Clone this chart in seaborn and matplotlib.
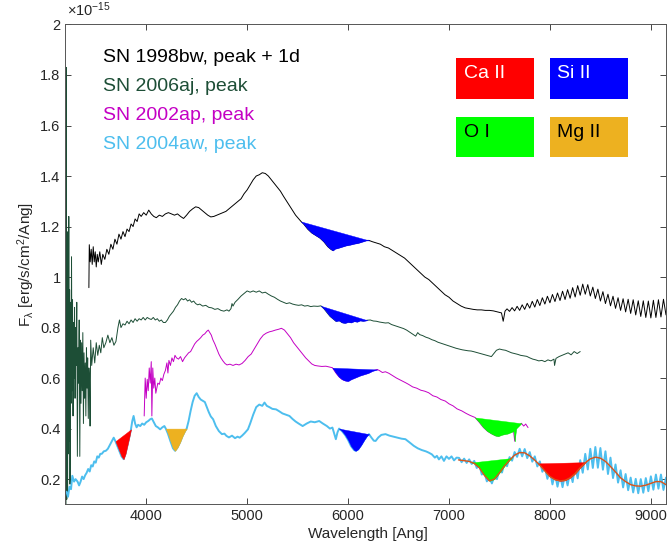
import numpy as np
import seaborn as sns
import matplotlib.pyplot as plt
from matplotlib.patches import Rectangle
from matplotlib.ticker import FormatStrFormatter

# spectra, flux in units of 1e-15 erg/s/cm^2/Ang
bw98_osc_wl = [7575, 7600, 7625, 7650, 7675, 7700, 7725, 7750, 7775, 7800,
               7825, 7850, 7875, 7900, 7925, 7950, 7975, 8000, 8025, 8050,
               8075, 8100, 8125, 8150, 8175, 8200, 8225, 8250, 8275, 8300,
               8325, 8350, 8375, 8400, 8425, 8450, 8475, 8500, 8525, 8550,
               8575, 8600, 8625, 8650, 8675, 8700, 8725, 8750, 8775, 8800,
               8825, 8850, 8875, 8900, 8925, 8950, 8975, 9000, 9025, 9050,
               9075, 9100, 9125, 9150]
bw98_wl = [3432, 3436, 3445, 3455, 3465, 3475, 3485, 3495, 3505, 3515,
           3525, 3540, 3555, 3570, 3590, 3610, 3630, 3650, 3670, 3690,
           3710, 3730, 3750, 3770, 3790, 3810, 3830, 3850, 3870, 3890,
           3910, 3930, 3950, 3975, 4000, 4025, 4050, 4075, 4100, 4130,
           4160, 4190, 4220, 4250, 4280, 4310, 4340, 4370, 4400, 4430,
           4460, 4490, 4520, 4550, 4580, 4610, 4640, 4670, 4700, 4730,
           4760, 4790, 4820, 4850, 4880, 4910, 4940, 4970, 5000, 5030,
           5060, 5090, 5120, 5150, 5180, 5210, 5240, 5270, 5300, 5330,
           5360, 5400, 5440, 5480, 5534, 5560, 5600, 5640, 5680, 5720,
           5760, 5800, 5830, 5850, 5870, 5900, 5940, 5980, 6020, 6060,
           6100, 6140, 6180, 6207, 6240, 6280, 6320, 6360, 6400, 6440,
           6480, 6520, 6560, 6600, 6640, 6680, 6720, 6760, 6800, 6840,
           6880, 6920, 6960, 7000, 7040, 7080, 7120, 7160, 7200, 7240,
           7280, 7320, 7360, 7400, 7440, 7480, 7520, 7537, 7555] + bw98_osc_wl
bw98_flux = [0.958, 1.128, 1.06, 1.11, 1.05, 1.12, 1.06, 1.10, 1.04, 1.09,
             1.06, 1.10, 1.05, 1.09, 1.07, 1.11, 1.09, 1.13, 1.11, 1.15,
             1.13, 1.17, 1.15, 1.18, 1.16, 1.19, 1.18, 1.21, 1.20, 1.23,
             1.22, 1.25, 1.24, 1.255, 1.245, 1.265, 1.25, 1.24, 1.235, 1.245,
             1.24, 1.25, 1.255, 1.25, 1.245, 1.25, 1.24, 1.232, 1.245, 1.26,
             1.27, 1.278, 1.275, 1.265, 1.255, 1.245, 1.238, 1.24, 1.245, 1.25,
             1.255, 1.26, 1.27, 1.28, 1.29, 1.30, 1.31, 1.33, 1.345, 1.365,
             1.385, 1.40, 1.405, 1.413, 1.41, 1.40, 1.385, 1.37, 1.355, 1.34,
             1.32, 1.295, 1.27, 1.245, 1.22, 1.21, 1.19, 1.175, 1.165, 1.155,
             1.14, 1.12, 1.11, 1.105, 1.112, 1.115, 1.12, 1.125, 1.128, 1.132,
             1.135, 1.14, 1.145, 1.145, 1.14, 1.135, 1.13, 1.12, 1.115, 1.105,
             1.095, 1.085, 1.075, 1.06, 1.045, 1.03, 1.015, 1.0, 0.99, 0.975,
             0.96, 0.945, 0.93, 0.92, 0.905, 0.895, 0.885, 0.878, 0.875, 0.872,
             0.87, 0.87, 0.868, 0.868, 0.866, 0.862, 0.858, 0.825, 0.865,
             0.874, 0.864, 0.879, 0.866, 0.884, 0.868, 0.890, 0.872, 0.896, 0.877,
             0.904, 0.881, 0.911, 0.887, 0.918, 0.893, 0.924, 0.898, 0.931, 0.903,
             0.937, 0.907, 0.944, 0.911, 0.950, 0.916, 0.958, 0.921, 0.966, 0.928,
             0.972, 0.932, 0.970, 0.925, 0.960, 0.915, 0.952, 0.905, 0.942, 0.895,
             0.932, 0.886, 0.924, 0.876, 0.918, 0.868, 0.914, 0.862, 0.912, 0.856,
             0.910, 0.850, 0.906, 0.844, 0.906, 0.840, 0.905, 0.838, 0.908, 0.840,
             0.910, 0.842, 0.912, 0.850]

aj06_wl = [3205, 3209, 3213, 3217, 3221, 3225, 3229, 3233, 3237, 3241,
           3245, 3250, 3255, 3260, 3265, 3270, 3275, 3280, 3285, 3290,
           3295, 3300, 3306, 3312, 3318, 3324, 3330, 3336, 3342, 3348,
           3354, 3360, 3366, 3372, 3378, 3384, 3390, 3396, 3402, 3408,
           3414, 3420, 3426, 3432, 3438, 3444, 3450,
           3460, 3475, 3490, 3505, 3520, 3535, 3550, 3565, 3580, 3600,
           3620, 3640, 3660, 3680, 3700, 3720, 3735, 3750, 3770, 3790,
           3810, 3830, 3850, 3870, 3890, 3910, 3930, 3950, 3970, 3990,
           4010, 4030, 4050, 4070, 4090, 4110, 4130, 4150, 4170, 4190,
           4210, 4230, 4250, 4270, 4290, 4310, 4330, 4350, 4370, 4390,
           4410, 4430, 4450, 4470, 4490, 4510, 4530, 4560, 4590, 4620,
           4650, 4680, 4710, 4740, 4770, 4800, 4820, 4840, 4850, 4860,
           4880, 4910, 4940, 4970, 5000, 5030, 5060, 5090, 5120, 5150,
           5180, 5210, 5240, 5270, 5300, 5330, 5360, 5390, 5420, 5450,
           5480, 5510, 5540, 5570, 5600, 5630, 5660, 5700, 5731, 5760,
           5790, 5820, 5850, 5880, 5910, 5940, 5970, 6000, 6030, 6060,
           6090, 6120, 6150, 6190, 6220, 6250, 6280, 6310, 6340, 6370,
           6400, 6430, 6460, 6490, 6520, 6550, 6580, 6670, 6690, 6710,
           6740, 6770, 6800, 6830, 6860, 6890, 6920, 6950, 6980, 7010,
           7040, 7070, 7100, 7130, 7160, 7190, 7220, 7250, 7420, 7450,
           7470, 7500, 7530, 7560, 7590, 7620, 7650, 7680, 7710, 7740,
           7770, 7800, 7830, 7860, 7890, 7920, 7950, 7980, 8010, 8040,
           8046, 8060, 8090, 8120, 8150, 8180, 8210, 8240, 8270, 8300]
aj06_flux = [0.10, 1.83, 0.12, 1.00, 0.15, 1.18, 0.30, 1.24, 0.35, 0.95,
             0.18, 0.90, 0.50, 1.08, 0.55, 0.91, 0.45, 0.82, 0.60, 0.88,
             0.52, 0.80, 0.65, 0.90, 0.29, 0.72, 0.58, 0.83, 0.29, 0.75,
             0.50, 0.74, 0.55, 0.78, 0.42, 0.70, 0.52, 0.66, 0.45, 0.72,
             0.56, 0.68, 0.44, 0.64, 0.60, 0.41, 0.75,
             0.65, 0.72, 0.66, 0.74, 0.69, 0.73, 0.70, 0.76, 0.72, 0.74,
             0.77, 0.74, 0.76, 0.73, 0.745, 0.80, 0.83, 0.80, 0.815, 0.81,
             0.825, 0.815, 0.83, 0.82, 0.835, 0.825, 0.835, 0.83, 0.84, 0.83,
             0.84, 0.835, 0.832, 0.84, 0.83, 0.835, 0.825, 0.83, 0.82, 0.82,
             0.83, 0.845, 0.855, 0.865, 0.88, 0.89, 0.905, 0.915, 0.91, 0.915,
             0.905, 0.91, 0.90, 0.905, 0.895, 0.89, 0.893, 0.885, 0.888, 0.88,
             0.878, 0.872, 0.875, 0.868, 0.865, 0.87, 0.865, 0.875, 0.895, 0.885,
             0.90, 0.912, 0.925, 0.935, 0.945, 0.94, 0.945, 0.94, 0.945, 0.937,
             0.94, 0.932, 0.925, 0.92, 0.912, 0.905, 0.90, 0.895, 0.898, 0.893,
             0.89, 0.888, 0.89, 0.885, 0.887, 0.883, 0.885, 0.884, 0.886, 0.875,
             0.86, 0.845, 0.835, 0.825, 0.828, 0.82, 0.818, 0.822, 0.82, 0.825,
             0.823, 0.828, 0.826, 0.829, 0.83, 0.826, 0.825, 0.822, 0.82, 0.818,
             0.819, 0.812, 0.808, 0.804, 0.80, 0.796, 0.79, 0.766, 0.78, 0.772,
             0.768, 0.762, 0.758, 0.752, 0.748, 0.742, 0.738, 0.734, 0.73, 0.726,
             0.722, 0.718, 0.715, 0.712, 0.71, 0.708, 0.707, 0.704, 0.685, 0.70,
             0.71, 0.715, 0.712, 0.71, 0.705, 0.70, 0.697, 0.694, 0.69, 0.688,
             0.686, 0.68, 0.675, 0.672, 0.668, 0.67, 0.665, 0.672, 0.668, 0.675,
             0.65, 0.678, 0.685, 0.69, 0.695, 0.70, 0.692, 0.705, 0.697, 0.705]

ap02_wl = [3980, 3990, 4000, 4010, 4020, 4030, 4040, 4050, 4056, 4065,
           4075, 4085, 4095, 4105, 4115, 4130, 4145, 4160, 4175, 4190,
           4205, 4215, 4225, 4240, 4255, 4270, 4285, 4300, 4320, 4340,
           4360, 4380, 4400, 4420, 4440, 4460, 4480, 4500, 4520, 4540,
           4560, 4580, 4600, 4615, 4630, 4645, 4660, 4680, 4700, 4720,
           4740, 4760, 4780, 4800, 4830, 4860, 4890, 4920, 4950, 4980,
           5010, 5040, 5070, 5100, 5130, 5160, 5190, 5220, 5250, 5280,
           5310, 5340, 5370, 5400, 5430, 5460, 5490, 5520, 5550, 5580,
           5610, 5640, 5670, 5700, 5740, 5780, 5845, 5880, 5910, 5940,
           5970, 6000, 6030, 6060, 6090, 6120, 6160, 6200, 6240, 6288,
           6310, 6340, 6370, 6404, 6440, 6480, 6520, 6568, 6600, 6640,
           6680, 6720, 6760, 6798, 6840, 6880, 6920, 6963, 7000, 7040,
           7080, 7127, 7170, 7210, 7258, 7300, 7340, 7380, 7420, 7460,
           7490, 7520, 7550, 7580, 7610, 7640, 7651, 7665, 7690, 7717,
           7740, 7760, 7783]
ap02_flux = [0.45, 0.60, 0.52, 0.595, 0.55, 0.64, 0.58, 0.665, 0.45, 0.64,
             0.56, 0.60, 0.54, 0.56, 0.58, 0.575, 0.60, 0.59, 0.615, 0.63,
             0.66, 0.62, 0.67, 0.65, 0.68, 0.665, 0.69, 0.68, 0.675, 0.685,
             0.665, 0.68, 0.69, 0.70, 0.705, 0.72, 0.735, 0.745, 0.752, 0.76,
             0.77, 0.775, 0.785, 0.79, 0.78, 0.77, 0.752, 0.735, 0.715, 0.695,
             0.68, 0.668, 0.658, 0.652, 0.655, 0.65, 0.655, 0.652, 0.658, 0.67,
             0.685, 0.695, 0.715, 0.735, 0.755, 0.77, 0.778, 0.783, 0.786, 0.79,
             0.793, 0.797, 0.79, 0.775, 0.76, 0.74, 0.725, 0.71, 0.695, 0.68,
             0.668, 0.656, 0.65, 0.648, 0.646, 0.647, 0.641, 0.62, 0.605, 0.595,
             0.59, 0.588, 0.595, 0.60, 0.605, 0.61, 0.615, 0.62, 0.628, 0.634,
             0.63, 0.622, 0.625, 0.619, 0.61, 0.60, 0.592, 0.582, 0.575, 0.565,
             0.56, 0.552, 0.548, 0.542, 0.53, 0.525, 0.515, 0.509, 0.498, 0.49,
             0.478, 0.47, 0.46, 0.452, 0.444, 0.425, 0.405, 0.39, 0.38, 0.372,
             0.37, 0.375, 0.378, 0.38, 0.385, 0.39, 0.35, 0.40, 0.41, 0.421,
             0.41, 0.418, 0.404]

aw04_osc_wl = [7100, 7125, 7150, 7175, 7200, 7225, 7250, 7275, 7300, 7325,
               7350, 7375, 7400, 7425, 7450, 7475, 7500, 7525, 7550, 7575,
               7600, 7625, 7650, 7675, 7700, 7725, 7750, 7775, 7800, 7825,
               7850, 7875, 7900, 7925, 7950, 7975, 8000, 8025, 8050, 8075,
               8100, 8125, 8150, 8175, 8200, 8225, 8250, 8275, 8300, 8325,
               8350, 8375, 8400, 8425, 8450, 8475, 8500, 8525, 8550, 8575,
               8600, 8625, 8650, 8675, 8700, 8725, 8750, 8775, 8800, 8825,
               8850, 8875, 8900, 8925, 8950, 8975, 9000, 9025, 9050, 9075,
               9100, 9125, 9150]
aw04_wl = [3210, 3225, 3240, 3255, 3268, 3285, 3300, 3320, 3335, 3350,
           3365, 3380, 3395, 3410, 3425, 3440, 3455, 3470, 3485, 3500,
           3515, 3530, 3545, 3560, 3580, 3600, 3620, 3640, 3660, 3678,
           3695, 3715, 3735, 3755, 3776, 3795, 3815, 3835, 3849, 3862,
           3875, 3890, 3905, 3920, 3941, 3960, 3980, 4000, 4020, 4040,
           4056, 4075, 4095, 4115, 4138, 4160, 4180, 4194, 4215, 4240,
           4265, 4286, 4310, 4335, 4360, 4385, 4401, 4420, 4440, 4460,
           4480, 4500, 4520, 4540, 4560, 4581, 4600, 4620, 4640, 4663,
           4690, 4720, 4750, 4775, 4795, 4820, 4850, 4880, 4905, 4926,
           4950, 4975, 5008, 5030, 5060, 5090, 5120, 5150, 5172, 5195,
           5220, 5250, 5287, 5320, 5350, 5385, 5419, 5450, 5480, 5510,
           5550, 5590, 5630, 5670, 5714, 5750, 5790, 5820, 5845, 5870,
           5879, 5895, 5911, 5940, 5970, 6000, 6030, 6060, 6076, 6100,
           6130, 6160, 6185, 6207, 6230, 6255, 6273, 6300, 6330, 6371,
           6410, 6450, 6490, 6530, 6568, 6610, 6650, 6690, 6730, 6770,
           6798, 6830, 6860, 6880, 6900, 6925, 6950, 6975, 7000, 7025,
           7050, 7075] + aw04_osc_wl
aw04_flux = [0.15, 0.13, 0.17, 0.16, 0.213, 0.19, 0.20, 0.19, 0.175, 0.19,
             0.21, 0.20, 0.215, 0.225, 0.24, 0.23, 0.255, 0.25, 0.27, 0.265,
             0.29, 0.285, 0.30, 0.30, 0.31, 0.312, 0.32, 0.335, 0.35, 0.364,
             0.35, 0.33, 0.31, 0.29, 0.279, 0.30, 0.335, 0.37, 0.397, 0.43,
             0.45, 0.42, 0.405, 0.415, 0.41, 0.42, 0.415, 0.425, 0.43, 0.437,
             0.44, 0.425, 0.41, 0.405, 0.397, 0.405, 0.41, 0.40, 0.38, 0.35,
             0.322, 0.312, 0.325, 0.345, 0.37, 0.39, 0.40, 0.43, 0.47, 0.505,
             0.53, 0.54, 0.525, 0.515, 0.51, 0.505, 0.485, 0.465, 0.448, 0.437,
             0.41, 0.39, 0.378, 0.38, 0.371, 0.365, 0.372, 0.362, 0.368, 0.364,
             0.372, 0.382, 0.397, 0.42, 0.455, 0.485, 0.495, 0.49, 0.503, 0.49,
             0.485, 0.478, 0.476, 0.468, 0.46, 0.455, 0.45, 0.438, 0.428, 0.42,
             0.41, 0.42, 0.428, 0.425, 0.43, 0.42, 0.41, 0.40, 0.404, 0.37,
             0.358, 0.385, 0.40, 0.39, 0.375, 0.355, 0.33, 0.315, 0.312, 0.318,
             0.335, 0.355, 0.37, 0.378, 0.365, 0.352, 0.351, 0.365, 0.375, 0.378,
             0.372, 0.368, 0.364, 0.36, 0.358, 0.345, 0.332, 0.322, 0.315, 0.31,
             0.305, 0.298, 0.285, 0.292, 0.278, 0.29, 0.272, 0.29, 0.28, 0.29,
             0.274, 0.285,
             0.284, 0.267, 0.281, 0.264, 0.278, 0.260, 0.272, 0.244, 0.257, 0.218,
             0.227, 0.191, 0.205, 0.183, 0.212, 0.200, 0.237, 0.226, 0.264, 0.251,
             0.287, 0.273, 0.307, 0.288, 0.320, 0.290, 0.319, 0.283, 0.307, 0.269,
             0.290, 0.250, 0.270, 0.229, 0.247, 0.201, 0.235, 0.179, 0.223, 0.170,
             0.218, 0.168, 0.220, 0.175, 0.230, 0.188, 0.252, 0.203, 0.275, 0.225,
             0.300, 0.238, 0.320, 0.244, 0.327, 0.245, 0.323, 0.237, 0.310, 0.220,
             0.285, 0.204, 0.258, 0.186, 0.235, 0.167, 0.220, 0.156, 0.206, 0.147,
             0.201, 0.144, 0.200, 0.146, 0.204, 0.152, 0.211, 0.158, 0.218, 0.162,
             0.218, 0.157, 0.206]

# smoothed SN 2004aw red end
aw04_smooth_wl = [7094, 7150, 7200, 7250, 7300, 7350, 7400, 7450, 7500, 7550,
                  7600, 7650, 7700, 7750, 7800, 7850, 7900, 7950, 8000, 8050,
                  8100, 8150, 8200, 8250, 8300, 8350, 8400, 8450, 8500, 8550,
                  8600, 8650, 8700, 8750, 8800, 8850, 8900, 8950, 9000, 9050,
                  9100, 9150]
aw04_smooth_flux = [0.276, 0.273, 0.270, 0.262, 0.245, 0.215, 0.193, 0.200, 0.225, 0.252,
                    0.275, 0.295, 0.305, 0.304, 0.292, 0.275, 0.255, 0.232, 0.210, 0.198,
                    0.193, 0.195, 0.205, 0.222, 0.245, 0.265, 0.280, 0.287, 0.283, 0.270,
                    0.250, 0.228, 0.205, 0.190, 0.178, 0.173, 0.172, 0.176, 0.183, 0.190,
                    0.190, 0.178]

sn_names = ['SN 1998bw, peak + 1d', 'SN 2006aj, peak', 'SN 2002ap, peak', 'SN 2004aw, peak']
sn_colors = ['black', '#1D4E36', '#C400C4', '#4DBEEE']

# absorption features: spectrum index, ion, blue edge, red edge
feat_sn = [0, 1, 2, 2, 3, 3, 3, 3, 3]
feat_ion = ['Si II', 'Si II', 'Si II', 'O I', 'Ca II', 'Mg II', 'Si II', 'O I', 'Ca II']
feat_lo = [5534, 5731, 5845, 7258, 3695, 4194, 5911, 7225, 7882]
feat_hi = [6207, 6190, 6288, 7717, 3849, 4401, 6207, 7621, 8357]

ions = ['Ca II', 'Si II', 'O I', 'Mg II']
ion_colors = {'Ca II': '#FF0000', 'Si II': '#0000FF', 'O I': '#00FF00', 'Mg II': '#EDB120'}
ion_text = {'Ca II': 'white', 'Si II': 'white', 'O I': 'black', 'Mg II': 'black'}

sns.set_theme(style='ticks')
plt.rcParams['font.family'] = ['Liberation Sans', 'DejaVu Sans']
plt.rcParams['mathtext.fontset'] = 'custom'
plt.rcParams['mathtext.rm'] = 'Liberation Sans'
plt.rcParams['mathtext.it'] = 'Liberation Sans:italic'

fig = plt.figure(figsize=(6.68, 5.5), dpi=100)
ax = fig.add_axes([0.098, 0.083, 0.899, 0.8725])

spectra = [(bw98_wl, bw98_flux, 0.7), (aj06_wl, aj06_flux, 0.7),
           (ap02_wl, ap02_flux, 0.7), (aw04_wl, aw04_flux, 1.4)]
for (wl, fl, lw), c in zip(spectra, sn_colors):
    sns.lineplot(x=wl, y=fl, ax=ax, color=c, lw=lw, estimator=None, sort=False)

for si, ion, lo, hi in zip(feat_sn, feat_ion, feat_lo, feat_hi):
    wl, fl = spectra[si][0], spectra[si][1]
    if si == 3 and lo > 7000:
        wl, fl = aw04_smooth_wl, aw04_smooth_flux
    xs = np.linspace(lo, hi, 300)
    ys = np.interp(xs, wl, fl)
    chord = np.interp(xs, [lo, hi], [ys[0], ys[-1]])
    ax.fill_between(xs, ys, chord, color=ion_colors[ion], lw=0.3, zorder=3)

sns.lineplot(x=aw04_smooth_wl, y=aw04_smooth_flux, ax=ax, color='#D95319', lw=1.0,
             estimator=None, sort=False, zorder=4)

ax.set_xlim(3200, 9150)
ax.set_ylim(0.1, 2)
ax.set_xticks([4000, 5000, 6000, 7000, 8000, 9000])
ax.set_yticks(np.arange(0.2, 2.01, 0.2))
ax.yaxis.set_major_formatter(FormatStrFormatter('%g'))
ax.tick_params(direction='in', length=4, width=0.6, labelsize=10.5, colors='#262626',
               top=True, right=True)
for sp in ax.spines.values():
    sp.set_visible(True)
    sp.set_color('#555555')
    sp.set_linewidth(0.7)

ax.set_xlabel('Wavelength [Ang]', fontsize=11, color='#262626')
ax.set_ylabel(r'F$_\mathrm{\lambda}$ [erg/s/cm$^2$/Ang]', fontsize=11, color='#262626')
ax.xaxis.set_label_coords(0.504, -0.047)
ax.yaxis.set_label_coords(-0.047, 0.5)
ax.text(0.002, 1.012, r'$\times$10$^{-15}$', transform=ax.transAxes, fontsize=10.5,
        color='#262626', va='bottom', ha='left')

for i, (name, c) in enumerate(zip(sn_names, sn_colors)):
    ax.text(0.0625, 0.932 - 0.061 * i, name, color=c, fontsize=14,
            transform=ax.transAxes, va='center', ha='left')

box_xy = {'Ca II': (0.651, 0.845), 'Si II': (0.807, 0.845),
          'O I': (0.651, 0.723), 'Mg II': (0.807, 0.723)}
for ion in ions:
    x0, y0 = box_xy[ion]
    ax.add_patch(Rectangle((x0, y0), 0.130, 0.085, transform=ax.transAxes,
                           facecolor=ion_colors[ion], edgecolor='none', zorder=5))
    ax.text(x0 + 0.012, y0 + 0.043, ion, color=ion_text[ion], fontsize=14,
            transform=ax.transAxes, va='baseline', ha='left', zorder=6)

fig.savefig('out.png', dpi=100)
